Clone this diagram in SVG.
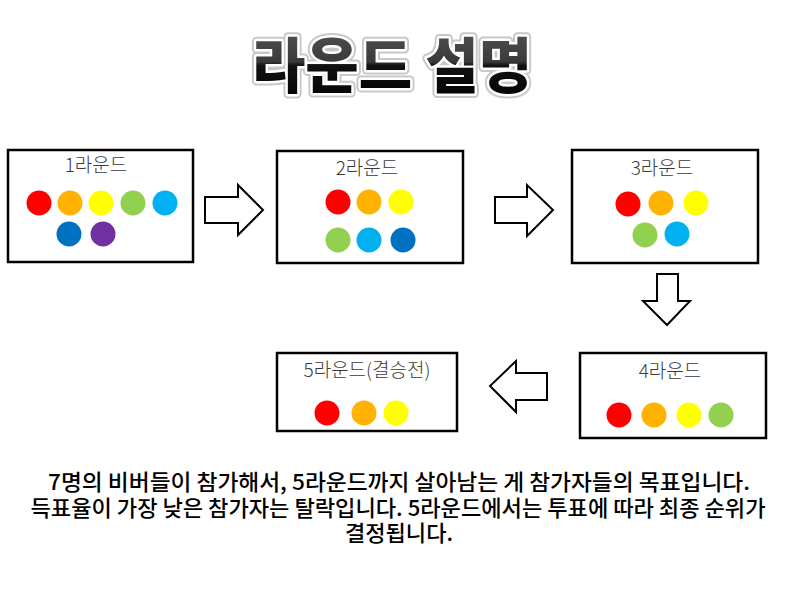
<svg xmlns="http://www.w3.org/2000/svg" width="800" height="599" viewBox="0 0 800 599">
<defs>
<linearGradient id="tg" x1="0" y1="0" x2="0" y2="1">
<stop offset="0" stop-color="#5a5a5a"/>
<stop offset="0.5" stop-color="#3a3a3a"/>
<stop offset="0.55" stop-color="#111"/>
<stop offset="1" stop-color="#000"/>
</linearGradient>
<style>
.box{fill:#fff;stroke:#000;stroke-width:2.5}
.arr{fill:#fff;stroke:#000;stroke-width:2;stroke-linejoin:miter}
.lbl{font-family:"Noto Sans CJK KR","Noto Sans",sans-serif;font-size:19px;font-weight:300;fill:#3a3a3a;text-anchor:middle}
.body{font-family:"Noto Sans CJK KR","Noto Sans",sans-serif;font-size:22px;font-weight:500;fill:#000;text-anchor:middle}
.ttl{font-family:"Noto Sans CJK KR","Noto Sans",sans-serif;font-size:60px;font-weight:900;text-anchor:middle}
.r{fill:#FF0000}.o{fill:#FFB300}.y{fill:#FFFF00}.g{fill:#92D050}.c{fill:#00B0F0}.b{fill:#0070C0}.p{fill:#7030A0}
</style>
</defs>
<rect width="800" height="599" fill="#fff"/>
<g id="title">
<text class="ttl" x="392" y="88" textLength="280" lengthAdjust="spacingAndGlyphs" fill="none" stroke="#c8c8c8" stroke-width="9" stroke-linejoin="round">라운드 설명</text>
<text class="ttl" x="392" y="88" textLength="280" lengthAdjust="spacingAndGlyphs" fill="none" stroke="#fff" stroke-width="5" stroke-linejoin="round">라운드 설명</text>
<text class="ttl" x="392" y="88" textLength="280" lengthAdjust="spacingAndGlyphs" fill="url(#tg)">라운드 설명</text>
</g>
<g id="round1">
<rect class="box" x="8" y="150" width="185" height="112"/>
<text class="lbl" x="96" y="172">1라운드</text>
<circle class="r" cx="39" cy="203" r="12.5"/>
<circle class="o" cx="70" cy="203" r="12.5"/>
<circle class="y" cx="101" cy="203" r="12.5"/>
<circle class="g" cx="133" cy="203" r="12.5"/>
<circle class="c" cx="165" cy="203" r="12.5"/>
<circle class="b" cx="69" cy="234" r="12.5"/>
<circle class="p" cx="103" cy="234" r="12.5"/>
</g>
<g id="round2">
<rect class="box" x="277" y="151" width="186" height="112"/>
<text class="lbl" x="367" y="175">2라운드</text>
<circle class="r" cx="338" cy="202" r="12.5"/>
<circle class="o" cx="369" cy="202" r="12.5"/>
<circle class="y" cx="401" cy="202" r="12.5"/>
<circle class="g" cx="338" cy="240" r="12.5"/>
<circle class="c" cx="369" cy="240" r="12.5"/>
<circle class="b" cx="403" cy="240" r="12.5"/>
</g>
<g id="round3">
<rect class="box" x="572" y="150" width="186" height="113"/>
<text class="lbl" x="662" y="175">3라운드</text>
<circle class="r" cx="628" cy="204" r="12.5"/>
<circle class="o" cx="661" cy="203" r="12.5"/>
<circle class="y" cx="696" cy="203" r="12.5"/>
<circle class="g" cx="645" cy="235" r="12.5"/>
<circle class="c" cx="677" cy="234" r="12.5"/>
</g>
<g id="round4">
<rect class="box" x="580" y="353" width="186" height="85"/>
<text class="lbl" x="670" y="378">4라운드</text>
<circle class="r" cx="619" cy="415" r="12.5"/>
<circle class="o" cx="654" cy="415" r="12.5"/>
<circle class="y" cx="689" cy="415" r="12.5"/>
<circle class="g" cx="721" cy="415" r="12.5"/>
</g>
<g id="round5">
<rect class="box" x="277" y="353" width="180" height="78"/>
<text class="lbl" x="367" y="377">5라운드(결승전)</text>
<circle class="r" cx="327" cy="413" r="12.5"/>
<circle class="o" cx="364" cy="413" r="12.5"/>
<circle class="y" cx="396" cy="413" r="12.5"/>
</g>
<g id="connectors">
<path class="arr" d="M205,197 H238 V185 L263,210 L238,235 V223 H205 Z"/>
<path class="arr" d="M495,197 H527 V185 L553,210 L527,236 V223 H495 Z"/>
<path class="arr" d="M657,274 H678 V301 H690 L667,325 L643,301 H657 Z"/>
<path class="arr" d="M547,373 H516 V361 L490,386 L516,412 V400 H547 Z"/>
</g>
<g id="description">
<text class="body" x="399" y="490" textLength="702" lengthAdjust="spacingAndGlyphs">7명의 비버들이 참가해서, 5라운드까지 살아남는 게 참가자들의 목표입니다.</text>
<text class="body" x="398" y="516" textLength="735" lengthAdjust="spacingAndGlyphs">득표율이 가장 낮은 참가자는 탈락입니다. 5라운드에서는 투표에 따라 최종 순위가</text>
<text class="body" x="399" y="541" textLength="108" lengthAdjust="spacingAndGlyphs">결정됩니다.</text>
</g>
</svg>
